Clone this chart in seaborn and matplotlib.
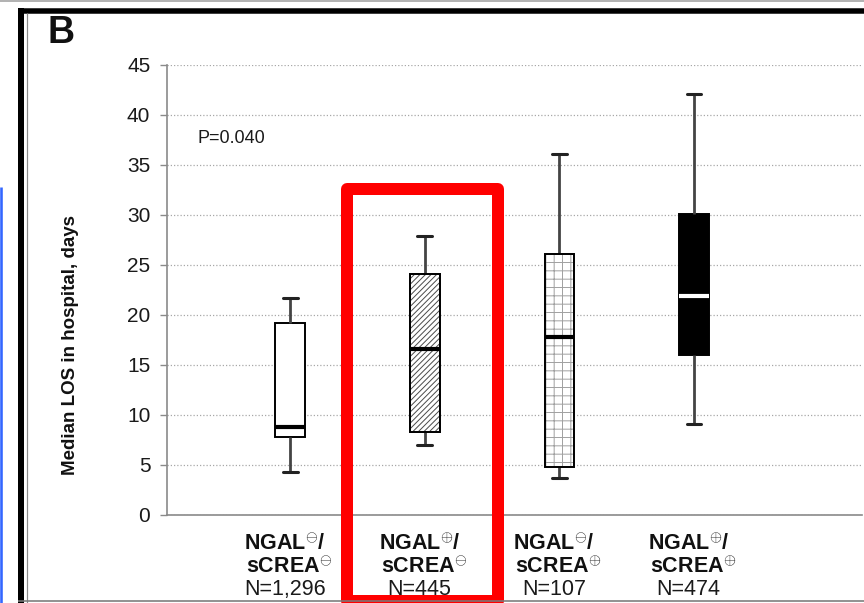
import numpy as np
import pandas as pd
import matplotlib
matplotlib.use("Agg")
import matplotlib.pyplot as plt
import matplotlib.transforms as mtransforms
import seaborn as sns
from matplotlib.patches import Rectangle, PathPatch
from matplotlib.lines import Line2D

# ---------------- data ----------------
groups = ["NGAL-/sCREA-", "NGAL+/sCREA-", "NGAL-/sCREA+", "NGAL+/sCREA+"]
whisker_low = [4.3, 7.0, 3.7, 9.1]
q1 = [7.8, 8.3, 4.8, 16.0]
median = [8.8, 16.6, 17.8, 21.9]
q3 = [19.2, 24.1, 26.1, 30.1]
whisker_high = [21.7, 27.9, 36.1, 42.1]
ngal_sign = ["-", "+", "-", "+"]
screa_sign = ["-", "-", "+", "+"]
n_labels = ["N=1,296", "N=445", "N=107", "N=474"]
y_ticks = [0, 5, 10, 15, 20, 25, 30, 35, 40, 45]
p_text = "P=0.040"
y_label = "Median LOS in hospital, days"
panel_letter = "B"

# ---------------- style ----------------
sns.set_theme(style="white")
plt.rcParams["font.family"] = ["Liberation Sans", "DejaVu Sans"]
plt.rcParams["mathtext.fontset"] = "custom"
plt.rcParams["mathtext.rm"] = "Liberation Sans"
plt.rcParams["mathtext.bf"] = "Liberation Sans:bold"
plt.rcParams["hatch.linewidth"] = 0.7

W, H = 864, 603
fig = plt.figure(figsize=(W / 100, H / 100), dpi=100)
fig.patch.set_facecolor("white")

ax_left, ax_right, ax_top, ax_bottom = 167, 862, 65, 514.5
ax = fig.add_axes([ax_left / W, (H - ax_bottom) / H,
                   (ax_right - ax_left) / W, (ax_bottom - ax_top) / H])

# long-form table: five summary values per group -> quartiles/whiskers
rows = []
for i, g in enumerate(groups):
    for v in (whisker_low[i], q1[i], median[i], q3[i], whisker_high[i]):
        rows.append({"group": g, "los": v})
df = pd.DataFrame(rows)

styles = [
    dict(face="white", hatch=None, hatch_color=None, med="black"),
    dict(face="white", hatch="//////", hatch_color="#4a4a4a", med="black"),
    dict(face="white", hatch="++", hatch_color="#a0a0a0", med="black"),
    dict(face="black", hatch=None, hatch_color=None, med="white"),
]

for i, g in enumerate(groups):
    st = styles[i]
    sns.boxplot(data=df[df["group"] == g], x="group", y="los", order=groups,
                ax=ax, width=0.22, whis=(0, 100), color=st["face"],
                saturation=1, linecolor="black", linewidth=1.4,
                showfliers=False,
                medianprops={"color": st["med"], "linewidth": 3},
                whiskerprops={"color": "#444444", "linewidth": 2},
                capprops={"color": "#222222", "linewidth": 2.2})
    box = ax.patches[-1]
    box.set_facecolor(st["face"])
    box.set_edgecolor("black")
    if st["hatch"]:
        # hatch takes the edge colour; redraw the outline in black on top
        box.set_hatch(st["hatch"])
        box.set_edgecolor(st["hatch_color"])
        ax.add_patch(PathPatch(box.get_path(), transform=box.get_transform(),
                               fill=False, edgecolor="black", linewidth=1.4,
                               zorder=box.get_zorder() + 0.05))

ax.set_xlim(-0.916, 4.248)
ax.set_ylim(0, 45)
ax.set_yticks(y_ticks)
ax.set_xticks([])
ax.set_xlabel("")
ax.set_ylabel(y_label, fontsize=13.5, fontweight="bold", color="#111111")
ax.yaxis.set_label_coords(-0.127, 0.377)

ax.set_axisbelow(True)
ax.grid(axis="y", linestyle=(0, (1, 1.6)), color="#a8a8a8", linewidth=0.9)
ax.grid(axis="x", visible=False)
for s in ("top", "right"):
    ax.spines[s].set_visible(False)
for s in ("left", "bottom"):
    ax.spines[s].set_color("#8a8a8a")
    ax.spines[s].set_linewidth(1.2)
ax.tick_params(axis="y", length=5, width=1, color="#8a8a8a",
               labelsize=15, labelcolor="#1a1a1a", pad=7, left=True)

# category labels (three lines each), centred under the boxes
label_shift = -0.04
trans = mtransforms.blended_transform_factory(ax.transData, ax.transAxes)
sym = {"-": r"\ominus", "+": r"\oplus"}
for i in range(len(groups)):
    xpos = i + label_shift
    ax.text(xpos, -0.079, r"$\mathbf{NGAL}^{%s}\mathbf{/}$" % sym[ngal_sign[i]],
            transform=trans, ha="center", va="baseline",
            fontsize=15.5, color="#111111")
    ax.text(xpos + 0.03, -0.1295, r"$\mathbf{sCREA}^{%s}$" % sym[screa_sign[i]],
            transform=trans, ha="center", va="baseline",
            fontsize=15.5, color="#111111")
    ax.text(xpos, -0.179, n_labels[i], transform=trans,
            ha="center", va="baseline", fontsize=15.5, color="#1a1a1a")

ax.text(0.0446, 0.826, p_text, transform=ax.transAxes, ha="left",
        va="baseline", fontsize=13, color="#1a1a1a")

# ---------------- frame / annotations (figure pixels) ----------------
def fx(x):
    return x / W

def fy(y):
    return 1 - y / H

def pt(px):
    return px * 72 / 100

fig.text(fx(48), fy(43), panel_letter, fontsize=27, fontweight="bold",
         ha="left", va="baseline", color="#111111")

frame_lines = [
    ((0, W), (1, 1), "#9a9a9a", 1.5),
    ((18, W), (10.5, 10.5), "black", 5.5),
    ((21, 21), (8, H), "black", 6),
    ((26.5, 26.5), (13, H), "#8a8a8a", 1.2),
    ((18, W), (600.5, 600.5), "#7a7a7a", 1.6),
    ((1.2, 1.2), (187, H), "#3366ff", 2.6),
]
for xs, ys, c, lw in frame_lines:
    fig.add_artist(Line2D([fx(xs[0]), fx(xs[1])], [fy(ys[0]), fy(ys[1])],
                          transform=fig.transFigure, color=c,
                          linewidth=pt(lw), solid_capstyle="butt"))

rect_l, rect_r, rect_t, rect_b = 346.5, 498.5, 188.5, 601
fig.add_artist(Rectangle((fx(rect_l), fy(rect_b)), fx(rect_r) - fx(rect_l),
                         fy(rect_t) - fy(rect_b), transform=fig.transFigure,
                         fill=False, edgecolor="#ff0000", linewidth=pt(12),
                         joinstyle="round"))

fig.savefig("out.png", dpi=100, facecolor="white")
